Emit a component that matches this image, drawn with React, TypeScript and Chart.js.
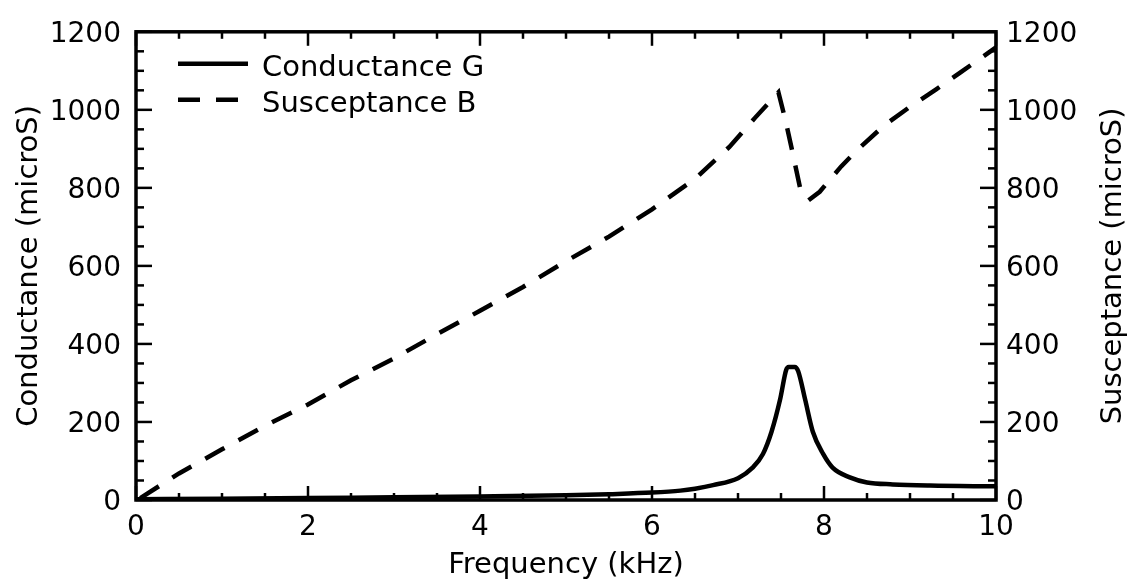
import React, { useEffect, useRef } from "react";
import { Chart, registerables } from "chart.js";

Chart.register(...registerables);

// ---- data ----
const G_FREQ = [0, 1, 2, 3, 4, 5, 5.5, 6, 6.33, 6.5, 6.71, 7.0, 7.17, 7.29, 7.39, 7.49, 7.56, 7.59, 7.66, 7.7, 7.78, 7.87, 7.99, 8.1, 8.3, 8.5, 8.8, 9.23, 10];
const G_VALUES = [2, 3, 5, 7, 9, 12, 15, 19, 24, 29, 38, 56, 83, 118, 175, 258, 333, 341, 341, 330, 258, 175, 118, 83, 58, 45, 40, 37, 35];

const B_FREQ = [0.05, 0.5, 1, 1.5, 2, 2.5, 3, 3.5, 4, 4.5, 5, 5.5, 6, 6.5, 6.9, 7.2, 7.47, 7.55, 7.63, 7.72, 7.82, 7.95, 8.2, 8.4, 8.7, 9.0, 9.3, 9.6, 10];
const B_VALUES = [5, 68, 130, 190, 245, 307, 363, 425, 485, 546, 612, 675, 745, 823, 905, 980, 1045, 975, 895, 802, 768, 790, 855, 900, 960, 1008, 1052, 1098, 1160];

const SERIES_LABELS = ["Conductance G", "Susceptance B"];
const X_TITLE = "Frequency (kHz)";
const Y_LEFT_TITLE = "Conductance (microS)";
const Y_RIGHT_TITLE = "Susceptance (microS)";
const X_RANGE = [0, 10];
const Y_RANGE = [0, 1200];
const X_MAJOR = 2;
const X_MINOR = 0.5;
const Y_MAJOR = 200;
const Y_MINOR = 50;

const FONT = "'DejaVu Sans', 'Liberation Sans', sans-serif";

const plainTick = (v: any) => String(v);

const frameTicksPlugin = {
  id: "frameTicks",
  afterDatasetsDraw(chart: any) {
    const { ctx, chartArea } = chart;
    const { left, right, top, bottom } = chartArea;
    const xs = chart.scales.x;
    const yl = chart.scales.y;
    const yr = chart.scales.y2;
    ctx.save();
    ctx.strokeStyle = "#000";
    ctx.fillStyle = "#000";
    ctx.setLineDash([]);
    ctx.lineWidth = 2.5;
    const seg = (x1: number, y1: number, x2: number, y2: number) => {
      ctx.beginPath();
      ctx.moveTo(x1, y1);
      ctx.lineTo(x2, y2);
      ctx.stroke();
    };
    const isMajor = (v: number, m: number) => Math.abs(v / m - Math.round(v / m)) < 1e-6;
    for (let v = X_RANGE[0]; v <= X_RANGE[1] + 1e-9; v += X_MINOR) {
      const px = xs.getPixelForValue(v);
      const len = isMajor(v, X_MAJOR) ? 14 : 7;
      seg(px, bottom, px, bottom - len);
      seg(px, top, px, top + len);
    }
    for (let v = Y_RANGE[0]; v <= Y_RANGE[1] + 1e-9; v += Y_MINOR) {
      const len = isMajor(v, Y_MAJOR) ? 16 : 8;
      const pl = yl.getPixelForValue(v);
      seg(left, pl, left + len, pl);
      const pr = yr.getPixelForValue(v);
      seg(right, pr, right - len, pr);
    }
    ctx.lineWidth = 3.5;
    ctx.strokeRect(left, top, right - left, bottom - top);

    // legend inside plot area
    const datasets = chart.data.datasets;
    datasets.forEach((ds: any, i: number) => {
      const yRow = top + 32 + i * 36;
      const x0 = left + 42;
      ctx.save();
      ctx.lineWidth = ds.borderWidth;
      ctx.strokeStyle = ds.borderColor;
      ctx.setLineDash(ds.borderDash || []);
      seg(x0, yRow, x0 + 70, yRow);
      ctx.restore();
      ctx.font = `29px ${FONT}`;
      ctx.textAlign = "left";
      ctx.textBaseline = "alphabetic";
      ctx.fillText(ds.label, x0 + 84, yRow + 12.5);
    });

    // right axis title (reads bottom-to-top)
    ctx.save();
    ctx.translate(1113, (top + bottom) / 2);
    ctx.rotate(-Math.PI / 2);
    ctx.font = `29px ${FONT}`;
    ctx.textAlign = "center";
    ctx.textBaseline = "middle";
    ctx.fillText(Y_RIGHT_TITLE, 0, 0);
    ctx.restore();
    ctx.restore();
  },
};

export default function App() {
  const ref = useRef<HTMLCanvasElement | null>(null);
  useEffect(() => {
    if (!ref.current) return;
    Chart.defaults.font.family = FONT;
    Chart.defaults.color = "#000";
    const gData = G_FREQ.map((x, i) => ({ x, y: G_VALUES[i] }));
    const bData = B_FREQ.map((x, i) => ({ x, y: B_VALUES[i] }));
    const chart = new Chart(ref.current, {
      type: "line",
      data: {
        datasets: [
          {
            label: SERIES_LABELS[0],
            data: gData,
            borderColor: "#000",
            borderWidth: 4.5,
            pointRadius: 0,
            cubicInterpolationMode: "monotone",
            yAxisID: "y",
            fill: false,
          },
          {
            label: SERIES_LABELS[1],
            data: bData,
            borderColor: "#000",
            borderWidth: 4.5,
            borderDash: [22, 16],
            pointRadius: 0,
            tension: 0,
            yAxisID: "y2",
            fill: false,
          },
        ],
      },
      options: {
        animation: false,
        responsive: false,
        devicePixelRatio: 1,
        layout: { padding: { top: 21, left: 0, right: 0, bottom: 0 } },
        plugins: {
          legend: { display: false },
          tooltip: { enabled: false },
        },
        scales: {
          x: {
            type: "linear",
            min: X_RANGE[0],
            max: X_RANGE[1],
            grid: { display: false, drawTicks: false },
            border: { display: false },
            ticks: { stepSize: X_MAJOR, padding: 11, font: { size: 28 }, color: "#000", maxRotation: 0, callback: plainTick },
            title: { display: true, text: X_TITLE, font: { size: 29 }, color: "#000", padding: { top: 0, bottom: 2 } },
            afterFit: (s: any) => { s.height = 85; },
          },
          y: {
            type: "linear",
            position: "left",
            min: Y_RANGE[0],
            max: Y_RANGE[1],
            grid: { display: false, drawTicks: false },
            border: { display: false },
            ticks: { stepSize: Y_MAJOR, padding: 15, labelOffset: 3, font: { size: 28 }, color: "#000", callback: plainTick },
            title: { display: true, text: Y_LEFT_TITLE, font: { size: 29 }, color: "#000", padding: { top: 12, bottom: 0 } },
            afterFit: (s: any) => { s.width = 136; },
          },
          y2: {
            type: "linear",
            position: "right",
            min: Y_RANGE[0],
            max: Y_RANGE[1],
            grid: { display: false, drawTicks: false },
            border: { display: false },
            ticks: { stepSize: Y_MAJOR, padding: 10, labelOffset: 3, font: { size: 28 }, color: "#000", callback: plainTick },
            title: { display: false, text: Y_RIGHT_TITLE },
            afterFit: (s: any) => { s.width = 136; },
          },
        },
      } as any,
      plugins: [frameTicksPlugin],
    });
    return () => chart.destroy();
  }, []);
  return (
    <div style={{ position: "fixed", left: 0, top: 0, width: 1132, height: 585, background: "#fff" }}>
      <canvas ref={ref} width={1132} height={585} style={{ display: "block", width: 1132, height: 585 }} />
    </div>
  );
}
